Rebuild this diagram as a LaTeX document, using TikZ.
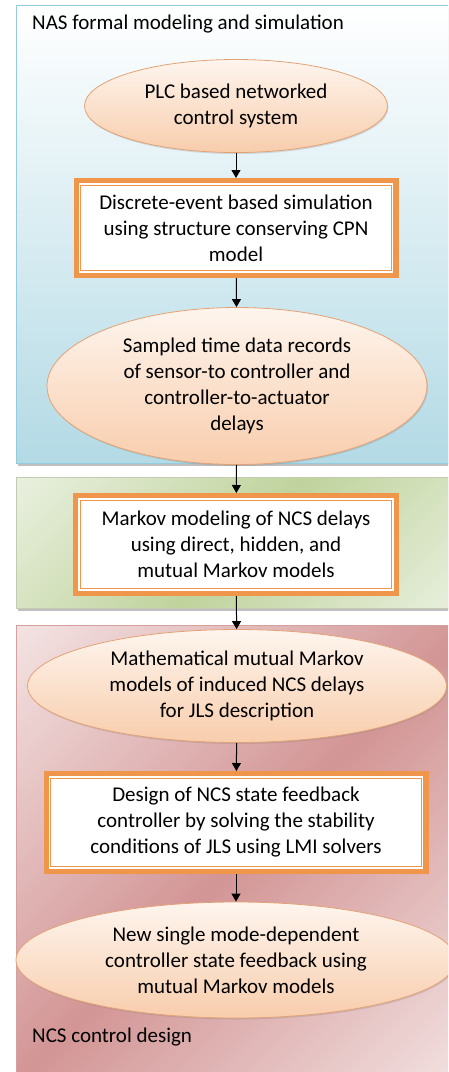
\documentclass[tikz,border=0pt]{standalone}
\usepackage{fontspec}
\setmainfont{Carlito}
\usetikzlibrary{shapes.geometric, arrows.meta, shadows}

\definecolor{panelblue}{HTML}{B3DAE5}
\definecolor{panelblueline}{HTML}{93CDDD}
\definecolor{greenlight}{HTML}{E9F0DF}
\definecolor{greendark}{HTML}{C0D39D}
\definecolor{roselight}{HTML}{F3E2E2}
\definecolor{rosedark}{HTML}{D39595}
\definecolor{peachtop}{HTML}{FEF5EE}
\definecolor{peachbot}{HTML}{F8CDAC}
\definecolor{peachline}{HTML}{E3A276}
\definecolor{boxorange}{HTML}{F0964B}

\pgfdeclarehorizontalshading{greenband}{100bp}{color(0bp)=(greenlight); color(15bp)=(greenlight); color(50bp)=(greendark); color(85bp)=(greenlight); color(100bp)=(greenlight)}
\pgfdeclarehorizontalshading{roseband}{100bp}{color(0bp)=(roselight); color(15bp)=(roselight); color(50bp)=(rosedark); color(85bp)=(roselight); color(100bp)=(roselight)}

\begin{document}
\begin{tikzpicture}[x=1pt, y=-1pt,
  stage/.style={ellipse, draw=peachline, line width=0.8pt, top color=peachtop, bottom color=peachbot,
                inner sep=0pt, align=center, font=\fontsize{21}{26}\selectfont,
                drop shadow={shadow xshift=1pt, shadow yshift=-1.5pt, opacity=0.25}},
  task/.style={rectangle, preaction={draw=boxorange, line width=12pt}, fill=white,
               draw=boxorange, line width=0.8pt, double=white, double distance=1.6pt,
               outer sep=6pt, inner sep=0pt, align=center, font=\fontsize{21}{26}\selectfont},
  flow/.style={-{Triangle[width=9pt, length=8pt]}, line width=1pt, black},
  panellabel/.style={anchor=west, inner sep=0pt, font=\fontsize{21}{24}\selectfont}
]
\useasboundingbox (0,0) rectangle (448,1072);
\clip (0,0) rectangle (448,1072);
\fill[white] (0,0) rectangle (448,1072);

% Panels
\fill[black!25] (18,8) rectangle (470,466);
\draw[panelblueline, line width=0.8pt, top color=white, bottom color=panelblue] (16,5) rectangle (470,463);
\fill[black!25] (18,480) rectangle (470,611);
\draw[greendark!80!black!60, line width=0.6pt, shading=greenband, shading angle=-45] (16,477) rectangle (470,608);
\draw[rosedark!90!white, line width=0.6pt, shading=roseband, shading angle=-45] (16,625) rectangle (470,1085);

\node[panellabel] (naslabel) at (32,24) {NAS formal modeling and simulation};
\node[panellabel] (ncslabel) at (32,1037) {NCS control design};

% Stages
\node[stage, minimum width=303, minimum height=93] (plc) at (236,106)
  {PLC based networked\\control system};
\node[task, minimum width=313, minimum height=88] (cpn) at (236,228)
  {Discrete-event based simulation\\using structure conserving CPN\\model};
\node[stage, minimum width=380, minimum height=157] (records) at (237,386)
  {Sampled time data records\\of sensor-to controller and\\controller-to-actuator\\delays};
\node[task, minimum width=314, minimum height=91] (markov) at (236,544.5)
  {Markov modeling of NCS delays\\using direct, hidden, and\\mutual Markov models};
\node[stage, minimum width=419, minimum height=113] (jls) at (237,686)
  {Mathematical mutual Markov\\models of induced NCS delays\\for JLS description};
\node[task, minimum width=373, minimum height=91] (lmi) at (236,822.5)
  {Design of NCS state feedback\\controller by solving the stability\\conditions of JLS using LMI solvers};
\node[stage, minimum width=440, minimum height=116] (feedback) at (236,960)
  {New single mode-dependent\\controller state feedback using\\mutual Markov models};

% Flow
\draw[flow] (plc) -- (cpn);
\draw[flow] (cpn) -- (records);
\draw[flow] (records) -- (markov);
\draw[flow] (markov) -- (jls);
\draw[flow] (jls) -- (lmi);
\draw[flow] (lmi) -- (feedback);

\end{tikzpicture}
\end{document}
